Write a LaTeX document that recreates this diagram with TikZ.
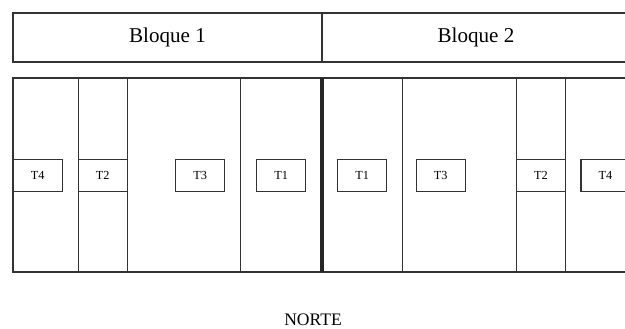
\documentclass[tikz,border=0pt]{standalone}
\usepackage{fontspec}
\setmainfont{Liberation Serif}
\tikzset{
  linea/.style={draw=black!80, line width=0.6pt},
  tubo/.style={linea, fill=white, minimum width=0.98cm, minimum height=0.65cm, inner sep=0pt, font=\fontsize{7}{8}\selectfont},
}
\begin{document}
\begin{tikzpicture}[x=0.02cm, y=-0.02cm]
            \useasboundingbox (0, 0) rectangle (625, 328);
            % bloques
            \draw[linea] (13, 13) rectangle (630, 62);
            \draw[linea] (322, 13) -- (322, 62);
            \node[font=\fontsize{12}{14}\selectfont] (bloque1) at (167.5, 37.5) {Bloque 1};
            \node[font=\fontsize{12}{14}\selectfont] (bloque2) at (476, 37.5) {Bloque 2};
            % parcelas
            \draw[linea] (13, 78) rectangle (630, 272);
            \foreach \x in {78.3, 127.3, 240.7, 402.7, 516.7, 565.3}
                \draw[linea] (\x, 78) -- (\x, 272);
            \draw[line width=2.6pt, black!85] (322, 78) -- (322, 272);
            % tratamientos
            \node[tubo] (t4a) at (37.8, 175.3) {T4};
            \node[tubo] (t2a) at (102.8, 175.3) {T2};
            \node[tubo] (t3a) at (200.2, 175.3) {T3};
            \node[tubo] (t1a) at (281.2, 175.3) {T1};
            \node[tubo] (t1b) at (362.3, 175.3) {T1};
            \node[tubo] (t3b) at (440.8, 175.3) {T3};
            \node[tubo] (t2b) at (541, 175.3) {T2};
            \node[tubo] (t4b) at (605.5, 175.3) {T4};
            %\node (norte) at (313, 319) {NORTE};
            \node[font=\fontsize{10}{12}\selectfont] (norte) at (313, 320) {NORTE};
\end{tikzpicture}
\end{document}
